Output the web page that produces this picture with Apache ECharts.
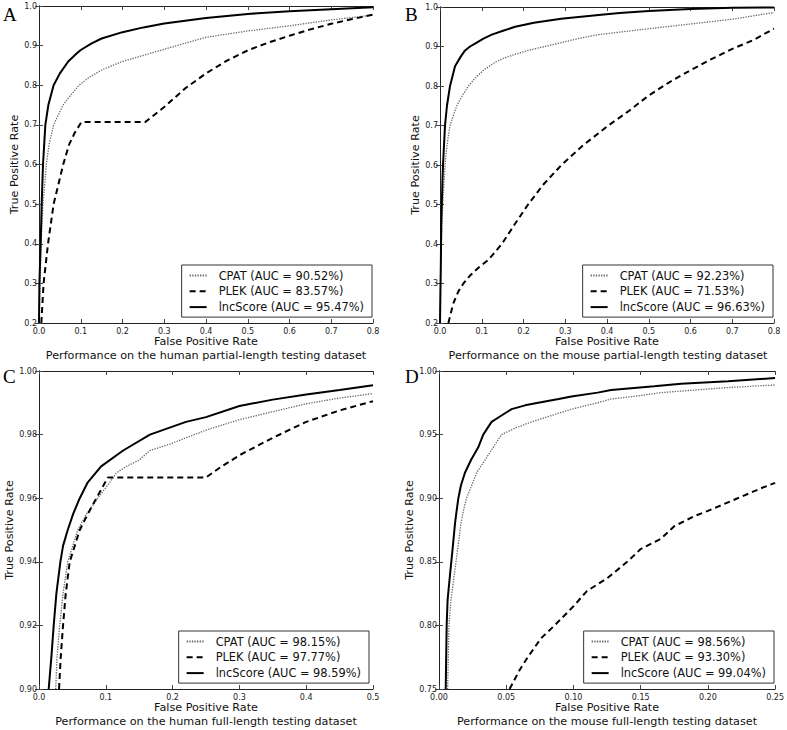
<!DOCTYPE html>
<html>
<head>
<meta charset="utf-8">
<script src="https://cdn.jsdelivr.net/npm/echarts@6/dist/echarts.min.js"></script>
<style>html,body{margin:0;padding:0;background:#fff;}#c{width:787px;height:730px;}</style>
</head>
<body>
<div id="c"></div>
<script>
// ---------- Panel A: human partial-length ----------
const A_CPAT = [[0,0.2],[0.0024,0.3],[0.0048,0.4],[0.0096,0.5],[0.0176,0.6],[0.024,0.65],[0.035,0.7],[0.0576,0.75],[0.072,0.77],[0.096,0.8],[0.12,0.82],[0.153,0.84],[0.2,0.86],[0.265,0.88],[0.33,0.9],[0.4,0.921],[0.5,0.937],[0.6,0.95],[0.7,0.965],[0.8,0.977]];
const A_PLEK = [[0.0056,0.2],[0.011,0.3],[0.0216,0.4],[0.035,0.5],[0.058,0.6],[0.072,0.65],[0.0856,0.68],[0.1016,0.707],[0.254,0.707],[0.27,0.72],[0.3,0.745],[0.35,0.792],[0.4,0.83],[0.45,0.862],[0.5,0.888],[0.55,0.908],[0.6,0.925],[0.65,0.941],[0.7,0.955],[0.75,0.967],[0.8,0.978]];
const A_INC = [[0,0.2],[0.001,0.3],[0.004,0.4],[0.0064,0.5],[0.0096,0.6],[0.0152,0.7],[0.0224,0.75],[0.035,0.8],[0.05,0.83],[0.07,0.86],[0.09,0.88],[0.1,0.889],[0.125,0.905],[0.15,0.918],[0.2,0.934],[0.25,0.946],[0.3,0.956],[0.4,0.97],[0.5,0.98],[0.6,0.987],[0.7,0.992],[0.8,0.997]];
const A_NAMES = ['CPAT (AUC = 90.52%)','PLEK (AUC = 83.57%)','lncScore (AUC = 95.47%)'];
const A_XTICKS = ['0.0','0.1','0.2','0.3','0.4','0.5','0.6','0.7','0.8'];
const A_YTICKS = ['0.2','0.3','0.4','0.5','0.6','0.7','0.8','0.9','1.0'];
const A_TITLE = 'Performance on the human partial-length testing dataset';

// ---------- Panel B: mouse partial-length ----------
const B_CPAT = [[0,0.2],[0.001,0.3],[0.0032,0.4],[0.0064,0.5],[0.012,0.6],[0.0167,0.65],[0.024,0.7],[0.04,0.75],[0.056,0.78],[0.068,0.8],[0.084,0.82],[0.104,0.84],[0.132,0.86],[0.152,0.87],[0.179,0.88],[0.211,0.89],[0.251,0.9],[0.291,0.91],[0.331,0.92],[0.379,0.93],[0.5,0.945],[0.6,0.957],[0.7,0.969],[0.8,0.986]];
const B_PLEK = [[0.02,0.2],[0.032,0.25],[0.044,0.28],[0.056,0.3],[0.072,0.32],[0.092,0.34],[0.116,0.36],[0.148,0.4],[0.179,0.45],[0.211,0.5],[0.247,0.55],[0.291,0.6],[0.343,0.65],[0.403,0.7],[0.45,0.735],[0.5,0.776],[0.55,0.81],[0.6,0.84],[0.65,0.868],[0.7,0.894],[0.75,0.916],[0.8,0.945]];
const B_INC = [[0,0.2],[0.002,0.35],[0.003,0.45],[0.0056,0.55],[0.0072,0.6],[0.012,0.7],[0.0167,0.75],[0.024,0.8],[0.036,0.85],[0.05,0.875],[0.06,0.89],[0.072,0.9],[0.088,0.91],[0.104,0.92],[0.124,0.93],[0.151,0.94],[0.18,0.95],[0.225,0.96],[0.29,0.97],[0.38,0.98],[0.43,0.985],[0.5,0.99],[0.6,0.995],[0.7,0.998],[0.8,0.999]];
const B_NAMES = ['CPAT (AUC = 92.23%)','PLEK (AUC = 71.53%)','lncScore (AUC = 96.63%)'];
const B_XTICKS = ['0.0','0.1','0.2','0.3','0.4','0.5','0.6','0.7','0.8'];
const B_YTICKS = ['0.2','0.3','0.4','0.5','0.6','0.7','0.8','0.9','1.0'];
const B_TITLE = 'Performance on the mouse partial-length testing dataset';

// ---------- Panel C: human full-length ----------
const C_CPAT = [[0.025,0.9],[0.027,0.91],[0.031,0.92],[0.036,0.93],[0.043,0.94],[0.058,0.95],[0.071,0.955],[0.088,0.96],[0.106,0.965],[0.116,0.968],[0.131,0.97],[0.15,0.972],[0.166,0.975],[0.196,0.977],[0.22,0.979],[0.25,0.9814],[0.3,0.9847],[0.35,0.9872],[0.4,0.9897],[0.45,0.9915],[0.5,0.9929]];
const C_PLEK = [[0.03,0.9],[0.0325,0.91],[0.036,0.92],[0.04,0.93],[0.046,0.94],[0.061,0.95],[0.073,0.955],[0.086,0.96],[0.103,0.9665],[0.25,0.9665],[0.27,0.9695],[0.3,0.9735],[0.35,0.979],[0.4,0.984],[0.45,0.9876],[0.5,0.9905]];
const C_INC = [[0.0145,0.9],[0.0185,0.91],[0.022,0.92],[0.026,0.93],[0.032,0.94],[0.036,0.945],[0.043,0.95],[0.051,0.955],[0.061,0.96],[0.073,0.965],[0.093,0.97],[0.126,0.975],[0.166,0.98],[0.22,0.984],[0.25,0.9855],[0.3,0.989],[0.35,0.991],[0.4,0.9926],[0.45,0.994],[0.5,0.9955]];
const C_NAMES = ['CPAT (AUC = 98.15%)','PLEK (AUC = 97.77%)','lncScore (AUC = 98.59%)'];
const C_XTICKS = ['0.0','0.1','0.2','0.3','0.4','0.5'];
const C_YTICKS = ['0.90','0.92','0.94','0.96','0.98','1.00'];
const C_TITLE = 'Performance on the human full-length testing dataset';

// ---------- Panel D: mouse full-length ----------
const D_CPAT = [[0.0064,0.75],[0.0074,0.8],[0.0089,0.82],[0.0114,0.84],[0.0139,0.86],[0.0163,0.88],[0.0181,0.89],[0.0205,0.9],[0.0243,0.91],[0.028,0.92],[0.0342,0.93],[0.0403,0.94],[0.0465,0.95],[0.0564,0.955],[0.0688,0.96],[0.0837,0.965],[0.0985,0.97],[0.118,0.975],[0.128,0.978],[0.145,0.98],[0.165,0.983],[0.19,0.985],[0.215,0.987],[0.25,0.989]];
const D_PLEK = [[0.0525,0.75],[0.06,0.765],[0.066,0.775],[0.076,0.79],[0.086,0.8],[0.1,0.815],[0.11,0.827],[0.125,0.837],[0.14,0.85],[0.15,0.86],[0.165,0.868],[0.175,0.878],[0.19,0.886],[0.2,0.89],[0.22,0.899],[0.24,0.908],[0.25,0.912]];
const D_INC = [[0.005,0.75],[0.0057,0.8],[0.0064,0.82],[0.0082,0.84],[0.0101,0.86],[0.0119,0.88],[0.0131,0.89],[0.0144,0.9],[0.0163,0.91],[0.0193,0.92],[0.0238,0.93],[0.0292,0.94],[0.0329,0.95],[0.0391,0.96],[0.0465,0.965],[0.054,0.97],[0.064,0.973],[0.0738,0.975],[0.089,0.978],[0.0985,0.98],[0.118,0.983],[0.128,0.985],[0.16,0.988],[0.18,0.99],[0.215,0.992],[0.25,0.9945]];
const D_NAMES = ['CPAT (AUC = 98.56%)','PLEK (AUC = 93.30%)','lncScore (AUC = 99.04%)'];
const D_XTICKS = ['0.00','0.05','0.10','0.15','0.20','0.25'];
const D_YTICKS = ['0.75','0.80','0.85','0.90','0.95','1.00'];
const D_TITLE = 'Performance on the mouse full-length testing dataset';

const LETTERS = ['A','B','C','D'];
const X_NAME = 'False Positive Rate';
const Y_NAME = 'True Positive Rate';

// ---------- layout ----------
const FONT = 'DejaVu Sans';
const FS = 11.2;
const panels = [
  {grid:{left:39, top:6, width:334, height:317}, cpat:A_CPAT, plek:A_PLEK, inc:A_INC, names:A_NAMES, xt:A_XTICKS, yt:A_YTICKS, title:A_TITLE,
   yGap:13, legendRight:415, legendTop:265, titleX:206, titleY:355, letterX:3, letterY:14},
  {grid:{left:440, top:7, width:334, height:316}, cpat:B_CPAT, plek:B_PLEK, inc:B_INC, names:B_NAMES, xt:B_XTICKS, yt:B_YTICKS, title:B_TITLE,
   yGap:14, legendRight:14, legendTop:265, titleX:608, titleY:355, letterX:405, letterY:14},
  {grid:{left:39, top:371, width:334, height:318}, cpat:C_CPAT, plek:C_PLEK, inc:C_INC, names:C_NAMES, xt:C_XTICKS, yt:C_YTICKS, title:C_TITLE,
   yGap:22, legendRight:418, legendTop:631, titleX:206, titleY:721, letterX:3, letterY:376},
  {grid:{left:439, top:371, width:337, height:318}, cpat:D_CPAT, plek:D_PLEK, inc:D_INC, names:D_NAMES, xt:D_XTICKS, yt:D_YTICKS, title:D_TITLE,
   yGap:16, legendRight:13, legendTop:631, titleX:607, titleY:721, letterX:405, letterY:376}
];

function tickFmt(labels){
  return function(v){
    for (const s of labels){ if (Math.abs(parseFloat(s) - v) < 1e-9) return s; }
    return '';
  };
}
function range(labels){
  const n = labels.map(parseFloat);
  return {min:n[0], max:n[n.length-1], interval:+(n[1]-n[0]).toFixed(6)};
}

const grid = [], xAxis = [], yAxis = [], series = [], legend = [], graphic = [];
panels.forEach((p, i) => {
  grid.push(Object.assign({containLabel:false}, p.grid));
  const xr = range(p.xt), yr = range(p.yt);
  const line = {show:true, lineStyle:{color:'#222', width:1}};
  const tick = {show:true, inside:true, length:4, lineStyle:{color:'#444', width:1}};
  xAxis.push({type:'value', gridIndex:i, position:'bottom', min:xr.min, max:xr.max, interval:xr.interval,
    axisLine:line, axisTick:tick, splitLine:{show:false},
    axisLabel:{formatter:tickFmt(p.xt), fontSize:8, color:'#222', fontFamily:FONT, margin:4},
    name:X_NAME, nameLocation:'middle', nameGap:12.5,
    nameTextStyle:{fontSize:FS, color:'#111', fontFamily:FONT}});
  xAxis.push({type:'value', gridIndex:i, position:'top', min:xr.min, max:xr.max, interval:xr.interval,
    axisLine:line, axisTick:tick, splitLine:{show:false}, axisLabel:{show:false}});
  yAxis.push({type:'value', gridIndex:i, position:'left', min:yr.min, max:yr.max, interval:yr.interval,
    axisLine:line, axisTick:tick, splitLine:{show:false},
    axisLabel:{formatter:tickFmt(p.yt), fontSize:8, color:'#222', fontFamily:FONT, margin:2},
    name:Y_NAME, nameLocation:'middle', nameGap:p.yGap,
    nameTextStyle:{fontSize:FS, color:'#111', fontFamily:FONT}});
  yAxis.push({type:'value', gridIndex:i, position:'right', min:yr.min, max:yr.max, interval:yr.interval,
    axisLine:line, axisTick:tick, splitLine:{show:false}, axisLabel:{show:false}});
  const ax = {xAxisIndex:2*i, yAxisIndex:2*i};
  series.push(Object.assign({type:'line', name:p.names[0], data:p.cpat, symbol:'none', showSymbol:false,
    lineStyle:{color:'#666', width:1.3, type:[1.3,1.3]}, itemStyle:{color:'#666'}, z:3}, ax));
  series.push(Object.assign({type:'line', name:p.names[1], data:p.plek, symbol:'none', showSymbol:false,
    lineStyle:{color:'#000', width:2, type:[6,4]}, itemStyle:{color:'#000'}, z:4}, ax));
  series.push(Object.assign({type:'line', name:p.names[2], data:p.inc, symbol:'none', showSymbol:false,
    lineStyle:{color:'#000', width:2, type:'solid'}, itemStyle:{color:'#000'}, z:5}, ax));
  legend.push({data:p.names, orient:'vertical', right:p.legendRight, top:p.legendTop,
    backgroundColor:'#fff', borderColor:'#333', borderWidth:1, borderRadius:0,
    padding:[4,8,3.5,7], itemGap:2.8, itemWidth:17, itemHeight:10, selectedMode:false,
    itemStyle:{color:'rgba(0,0,0,0)', borderColor:'rgba(0,0,0,0)', borderWidth:0, opacity:0},
    textStyle:{fontSize:11.4, lineHeight:13, color:'#111', fontFamily:FONT, padding:[0,0,0,7]}});
  graphic.push({type:'text', x:p.titleX, y:p.titleY,
    style:{text:p.title, fill:'#111', font:FS + 'px "DejaVu Sans"', align:'center', verticalAlign:'middle'}});
  graphic.push({type:'text', x:p.letterX, y:p.letterY,
    style:{text:LETTERS[i], fill:'#000', font:'19px "Liberation Serif"', align:'left', verticalAlign:'middle'}});
});

const chart = echarts.init(document.getElementById('c'), null, {renderer:'svg', width:787, height:730});
chart.setOption({animation:false, backgroundColor:'#fff', grid, xAxis, yAxis, series, legend, graphic});
</script>
</body>
</html>
